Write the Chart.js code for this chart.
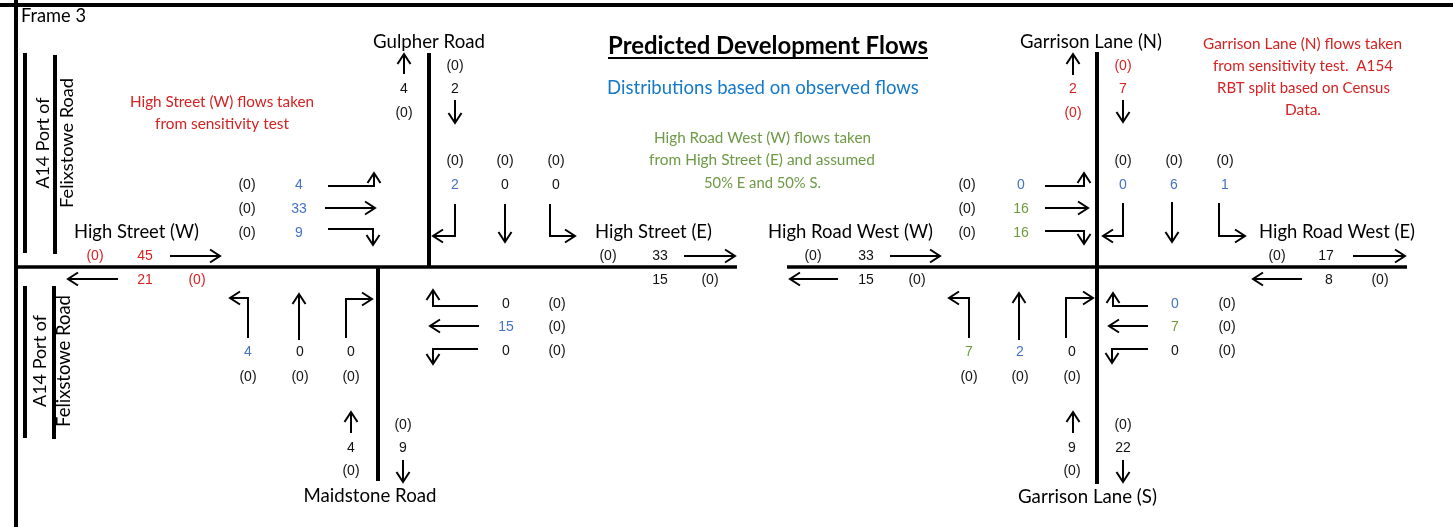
<!DOCTYPE html>
<html><head><meta charset="utf-8">
<script src="https://cdn.jsdelivr.net/npm/chart.js@4.4.1/dist/chart.umd.min.js"></script>
<style>html,body{margin:0;padding:0;background:#fff;overflow:hidden}canvas{display:block}</style>
</head><body>
<canvas id="c" width="1453" height="527" style="width:1453px;height:527px"></canvas>
<script>
// ================= DATA =================
const frameLabel = 'Frame 3';
const titleText = 'Predicted Development Flows';
const subtitleText = 'Distributions based on observed flows';
const sideRoadName = ['A14 Port of', 'Felixstowe Road'];
const roadNames = ['Gulpher Road', 'High Street (E)', 'Maidstone Road', 'High Street (W)',
                   'Garrison Lane (N)', 'High Road West (E)', 'Garrison Lane (S)', 'High Road West (W)'];
const noteHighStreetW = ['High Street (W) flows taken', 'from sensitivity test'];
const noteHighRoadWestW = ['High Road West (W) flows taken', 'from High Street (E) and assumed', '50% E and 50% S.'];
const noteGarrisonN = ['Garrison Lane (N) flows taken', 'from sensitivity test.  A154', 'RBT split based on Census', 'Data.'];

// Source of each figure: 'O' = observed distribution, 'S' = sensitivity test, 'A' = assumed split, '' = derived
// Junction 1 : High Street / Gulpher Road / Maidstone Road   (arm order N, E, S, W)
const j1ArmExit   = [4, 33, 9, 21];
const j1ArmEntry  = [2, 15, 4, 45];
const j1ArmBase   = [0, 0, 0, 0];
const j1ArmSrc    = ['', '', '', 'S'];
const j1TurnsN = [2, 0, 0];   // southbound from Gulpher Rd : to W, ahead, to E
const j1TurnsE = [0, 15, 0];  // westbound from High St (E) : to N, ahead, to S
const j1TurnsS = [4, 0, 0];   // northbound from Maidstone Rd : to W, ahead, to E
const j1TurnsW = [4, 33, 9];  // eastbound from High St (W) : to N, ahead, to S
const j1SrcN = ['O', '', ''];
const j1SrcE = ['', 'O', ''];
const j1SrcS = ['O', '', ''];
const j1SrcW = ['O', 'O', 'O'];
const j1TurnBase = [0, 0, 0];

// Junction 2 : High Road West / Garrison Lane   (arm order N, E, S, W)
const j2ArmExit   = [2, 17, 22, 15];
const j2ArmEntry  = [7, 8, 9, 33];
const j2ArmBase   = [0, 0, 0, 0];
const j2ArmSrc    = ['S', '', '', ''];
const j2TurnsN = [0, 6, 1];   // southbound from Garrison Lane (N) : to W, ahead, to E
const j2TurnsE = [0, 7, 0];   // westbound from High Road West (E) : to N, ahead, to S
const j2TurnsS = [7, 2, 0];   // northbound from Garrison Lane (S) : to W, ahead, to E
const j2TurnsW = [0, 16, 16]; // eastbound from High Road West (W) : to N, ahead, to S
const j2SrcN = ['O', 'O', 'O'];
const j2SrcE = ['O', 'A', ''];
const j2SrcS = ['A', 'O', ''];
const j2SrcW = ['O', 'A', 'A'];
const j2TurnBase = [0, 0, 0];

// ================= LAYOUT / STYLE =================
const COL = { '': '#111111', O: '#4472C4', S: '#DA1F1F', A: '#6E9A3E' };
const NOTE_RED = '#D42222', NOTE_BLUE = '#1479C9', NOTE_GREEN = '#6E9A45';
const WORD_FONT = 'Lato, "Open Sans", sans-serif';
const NUM_FONT = '"Liberation Sans", Arial, sans-serif';

const roadSegments = [
  [[0, 5], [1453, 5], 4],          // frame top
  [[16, 0], [16, 527], 4],         // frame left
  [[16, 267], [737, 267], 3.5],    // High Street
  [[429, 53], [429, 267], 4],      // Gulpher Road
  [[378, 267], [378, 481], 4],     // Maidstone Road
  [[787, 267], [1407, 267], 3.5],  // High Road West
  [[1097, 52], [1097, 484], 4],    // Garrison Lane
  [[25, 53], [25, 253], 4], [[55, 55], [55, 254], 4],
  [[25, 286], [25, 438], 4], [[54, 286], [54, 439], 4]
];

const datasets = roadSegments.map(s => ({
  data: [{ x: s[0][0], y: s[0][1] }, { x: s[1][0], y: s[1][1] }],
  borderColor: '#000', borderWidth: s[2], pointRadius: 0, showLine: true,
  fill: false, borderCapStyle: 'butt', tension: 0
}));

// arrows: polyline, head at last point
const arrows = [
  // J1 north arm
  [[404, 74], [404, 54]], [[455, 100], [455, 123]],
  // J1 southbound turns
  [[455, 204], [455, 236], [433, 236]], [[505, 204], [505, 242]], [[550, 204], [550, 236], [575, 236]],
  // J1 east arm
  [[684, 256], [735, 256]],
  // J1 westbound turns
  [[478, 306], [433, 306], [433, 290]], [[479, 326], [430, 326]], [[478, 349], [433, 349], [433, 364]],
  // J1 northbound turns
  [[248, 338], [248, 298], [230, 298]], [[299, 340], [299, 294]], [[346, 338], [346, 299], [372, 299]],
  // J1 south arm
  [[351, 433], [351, 412]], [[403, 460], [403, 482]],
  // J1 west arm
  [[170, 256], [220, 256]], [[118, 279], [68, 279]],
  // J1 eastbound turns
  [[328, 186], [374, 186], [374, 173]], [[325, 208], [375, 208]], [[328, 229], [373, 229], [373, 245]],
  // J2 north arm
  [[1073, 75], [1073, 54]], [[1123, 100], [1123, 122]],
  // J2 southbound turns
  [[1123, 203], [1123, 236], [1103, 236]], [[1172, 202], [1172, 242]], [[1219, 203], [1219, 236], [1245, 236]],
  // J2 east arm
  [[1353, 256], [1405, 256]], [[1302, 279], [1253, 279]],
  // J2 westbound turns
  [[1148, 306], [1113, 306], [1113, 293]], [[1148, 326], [1109, 326]], [[1148, 349], [1112, 349], [1112, 363]],
  // J2 northbound turns
  [[969, 338], [969, 298], [949, 298]], [[1019, 340], [1019, 293]], [[1066, 338], [1066, 298], [1093, 298]],
  // J2 south arm
  [[1073, 433], [1073, 412]], [[1123, 460], [1123, 482]],
  // J2 west arm
  [[890, 256], [940, 256]], [[838, 279], [790, 279]],
  // J2 eastbound turns
  [[1045, 186], [1084, 186], [1084, 173]], [[1045, 208], [1088, 208]], [[1045, 231], [1084, 231], [1084, 244]]
];

// number labels
const labels = [];
function lab(x, y, v, src, bracket) {
  labels.push({ x, y, t: bracket ? '(' + v + ')' : String(v), c: COL[src || ''] });
}
function junctionLabels(P, exit, entry, base, asrc, tN, tE, tS, tW, sN, sE, sS, sW, tb) {
  // north arm
  lab(P.nx[0], 89, exit[0], asrc[0]); lab(P.nx[0], 113, base[0], asrc[0], true);
  lab(P.nx[1], 89, entry[0], asrc[0]); lab(P.nx[1], 66, base[0], asrc[0], true);
  // southbound turns
  for (let i = 0; i < 3; i++) { lab(P.sbx[i], 185, tN[i], sN[i]); lab(P.sbx[i], 161, tb[i], '', true); }
  // east arm
  P.east(exit[1], entry[1], base[1], asrc[1]);
  // westbound turns
  const wy = [304, 327, 351];
  for (let i = 0; i < 3; i++) { lab(P.wbx[0], wy[i], tE[i], sE[i]); lab(P.wbx[1], wy[i], tb[i], '', true); }
  // northbound turns
  for (let i = 0; i < 3; i++) { lab(P.nbx[i], 352, tS[i], sS[i]); lab(P.nbx[i], 377, tb[i], '', true); }
  // south arm
  lab(P.sx[0], 448, entry[2], asrc[2]); lab(P.sx[0], 471, base[2], asrc[2], true);
  lab(P.sx[1], 448, exit[2], asrc[2]); lab(P.sx[1], 425, base[2], asrc[2], true);
  // west arm
  P.west(exit[3], entry[3], base[3], asrc[3]);
  // eastbound turns
  const ey = [185, 209, 233];
  for (let i = 0; i < 3; i++) { lab(P.ebx[1], ey[i], tW[i], sW[i]); lab(P.ebx[0], ey[i], tb[i], '', true); }
}
junctionLabels({
  nx: [404, 455], sbx: [455, 505, 556], wbx: [506, 557], nbx: [248, 300, 351], sx: [351, 403], ebx: [247, 299],
  east: (ex, en, b, s) => { lab(660, 256, ex, s); lab(608, 256, b, s, true); lab(660, 280, en, s); lab(710, 280, b, s, true); },
  west: (ex, en, b, s) => { lab(145, 256, en, s); lab(95, 256, b, s, true); lab(145, 280, ex, s); lab(197, 280, b, s, true); }
}, j1ArmExit, j1ArmEntry, j1ArmBase, j1ArmSrc, j1TurnsN, j1TurnsE, j1TurnsS, j1TurnsW, j1SrcN, j1SrcE, j1SrcS, j1SrcW, j1TurnBase);
junctionLabels({
  nx: [1073, 1123], sbx: [1123, 1174, 1225], wbx: [1175, 1227], nbx: [969, 1020, 1072], sx: [1072, 1123], ebx: [967, 1021],
  east: (ex, en, b, s) => { lab(1326, 256, ex, s); lab(1277, 256, b, s, true); lab(1329, 280, en, s); lab(1380, 280, b, s, true); },
  west: (ex, en, b, s) => { lab(866, 256, en, s); lab(813, 256, b, s, true); lab(866, 280, ex, s); lab(917, 280, b, s, true); }
}, j2ArmExit, j2ArmEntry, j2ArmBase, j2ArmSrc, j2TurnsN, j2TurnsE, j2TurnsS, j2TurnsW, j2SrcN, j2SrcE, j2SrcS, j2SrcW, j2TurnBase);

// word labels: text, centre x, centre y, target width, colour, bold, rotated
const words = [
  [frameLabel, 53.5, 16, 65, '#000'],
  [roadNames[0], 429, 42, 112, '#000'],
  [roadNames[1], 653.5, 232, 117, '#000'],
  [roadNames[2], 370, 496, 133, '#000'],
  [roadNames[3], 136.5, 232, 125, '#000'],
  [roadNames[4], 1091, 42, 142, '#000'],
  [roadNames[5], 1337, 232, 156, '#000'],
  [roadNames[6], 1087.5, 497, 139, '#000'],
  [roadNames[7], 850.5, 232, 165, '#000'],
  [subtitleText, 763, 88, 312, NOTE_BLUE],
  [noteHighStreetW[0], 222, 102, 184, NOTE_RED],
  [noteHighStreetW[1], 222, 124, 134, NOTE_RED],
  [noteHighRoadWestW[0], 762.5, 138, 217, NOTE_GREEN],
  [noteHighRoadWestW[1], 762, 160, 226, NOTE_GREEN],
  [noteHighRoadWestW[2], 762.5, 183, 117, NOTE_GREEN],
  [noteGarrisonN[0], 1302.5, 44, 199, NOTE_RED],
  [noteGarrisonN[1], 1303, 66, 180, NOTE_RED],
  [noteGarrisonN[2], 1303.5, 88, 173, NOTE_RED],
  [noteGarrisonN[3], 1303, 110, 36, NOTE_RED],
  [sideRoadName[0], 43, 143, 91, '#000', false, true],
  [sideRoadName[1], 67, 143, 130, '#000', false, true],
  [sideRoadName[0], 40, 361, 92, '#000', false, true],
  [sideRoadName[1], 64, 361, 132, '#000', false, true]
];

const diagramPlugin = {
  id: 'diagram',
  afterDatasetsDraw(chart) {
    const { ctx } = chart;
    const sx = chart.scales.x, sy = chart.scales.y;
    const X = v => sx.getPixelForValue(v), Y = v => sy.getPixelForValue(v);
    ctx.save();
    // arrows
    ctx.strokeStyle = '#000'; ctx.lineWidth = 2; ctx.lineJoin = 'miter'; ctx.lineCap = 'butt';
    arrows.forEach(a => {
      ctx.beginPath();
      a.forEach((p, i) => i ? ctx.lineTo(X(p[0]), Y(p[1])) : ctx.moveTo(X(p[0]), Y(p[1])));
      ctx.stroke();
      const p1 = a[a.length - 2], p2 = a[a.length - 1];
      const tx = X(p2[0]), ty = Y(p2[1]);
      let dx = tx - X(p1[0]), dy = ty - Y(p1[1]);
      const len = Math.hypot(dx, dy); dx /= len; dy /= len;
      const L = 10, W = 6.5;
      ctx.beginPath();
      ctx.moveTo(tx - L * dx + W * dy, ty - L * dy - W * dx);
      ctx.lineTo(tx, ty);
      ctx.lineTo(tx - L * dx - W * dy, ty - L * dy + W * dx);
      ctx.stroke();
    });
    // numbers
    ctx.textAlign = 'center'; ctx.textBaseline = 'middle';
    ctx.font = '14px ' + NUM_FONT;
    labels.forEach(l => { ctx.fillStyle = l.c; ctx.fillText(l.t, X(l.x), Y(l.y)); });
    // words
    const fitDraw = (t, cx, cy, w, col, bold, rot) => {
      const wt = bold ? 'bold ' : '';
      ctx.font = wt + '20px ' + WORD_FONT;
      const size = 20 * w / ctx.measureText(t).width;
      ctx.font = wt + size.toFixed(2) + 'px ' + WORD_FONT;
      ctx.fillStyle = col;
      ctx.save();
      ctx.translate(X(cx), Y(cy));
      if (rot) ctx.rotate(-Math.PI / 2);
      ctx.fillText(t, 0, 0);
      ctx.restore();
      return size;
    };
    words.forEach(w => fitDraw(w[0], w[1], w[2], w[3], w[4], w[5], w[6]));
    // title (bold, underlined)
    fitDraw(titleText, 768, 46, 320, '#000', true);
    ctx.strokeStyle = '#000'; ctx.lineWidth = 2;
    ctx.beginPath(); ctx.moveTo(X(608), Y(58)); ctx.lineTo(X(928), Y(58)); ctx.stroke();
    ctx.restore();
  }
};

new Chart(document.getElementById('c'), {
  type: 'scatter',
  data: { datasets },
  options: {
    responsive: false, animation: false, devicePixelRatio: 1,
    layout: { padding: 0 },
    plugins: { legend: { display: false }, tooltip: { enabled: false } },
    scales: {
      x: { type: 'linear', min: 0, max: 1453, display: false },
      y: { type: 'linear', min: 0, max: 527, reverse: true, display: false }
    }
  },
  plugins: [diagramPlugin]
});
</script>
</body></html>
